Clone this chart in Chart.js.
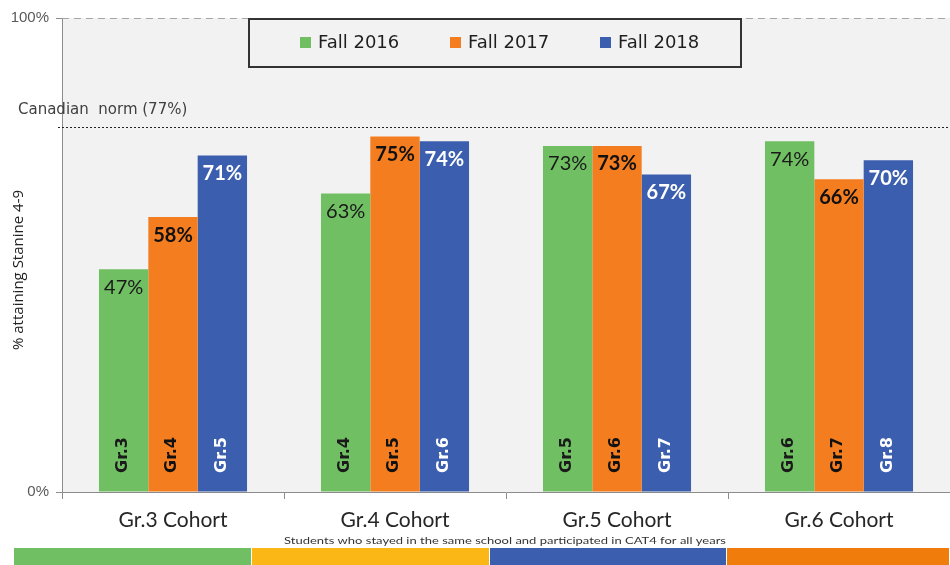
<!DOCTYPE html>
<html>
<head>
<meta charset="utf-8">
<script src="https://cdn.jsdelivr.net/npm/chart.js@4"></script>
<style>
  html, body { margin: 0; padding: 0; background: #fff; }
  #wrap { width: 950px; height: 565px; position: relative; }
</style>
</head>
<body>
<div id="wrap"><canvas id="cohortChart" width="950" height="565"></canvas></div>
<script>
(() => {
  "use strict";

  // ── data ──────────────────────────────────────────────────────────
  const cohorts = ["Gr.3 Cohort", "Gr.4 Cohort", "Gr.5 Cohort", "Gr.6 Cohort"];
  const fall2016 = [47, 63, 73, 74];
  const fall2017 = [58, 75, 73, 66];
  const fall2018 = [71, 74, 67, 70];
  const grades2016 = ["Gr.3", "Gr.4", "Gr.5", "Gr.6"];
  const grades2017 = ["Gr.4", "Gr.5", "Gr.6", "Gr.7"];
  const grades2018 = ["Gr.5", "Gr.6", "Gr.7", "Gr.8"];
  const yTicks = [0, 100];
  const canadianNorm = 77;

  const green = "#70bf63";
  const orange = "#f47d20";
  const blue = "#3b5fae";
  const plotBg = "#f2f2f2";
  const axisGray = "#8c8c8c";

  const series = [
    { label: "Fall 2016", data: fall2016, grades: grades2016, color: green, text: "#1a1a1a", bold: false },
    { label: "Fall 2017", data: fall2017, grades: grades2017, color: orange, text: "#111", bold: true },
    { label: "Fall 2018", data: fall2018, grades: grades2018, color: blue, text: "#ffffff", bold: true },
  ];

  // plot background, norm line, top dashed line, legend box, footer strips
  const decorations = {
    id: "decorations",
    beforeDraw(chart) {
      const { ctx, chartArea: a } = chart;
      ctx.save();
      ctx.fillStyle = plotBg;
      ctx.fillRect(a.left, a.top, a.right - a.left, a.bottom - a.top);
      ctx.restore();
    },
    beforeDatasetsDraw(chart) {
      const { ctx, chartArea: a, scales } = chart;
      const y = scales.y;
      ctx.save();
      // dashed 100% line
      ctx.strokeStyle = "#a6a6a6";
      ctx.lineWidth = 1;
      ctx.setLineDash([7, 5]);
      ctx.beginPath();
      ctx.moveTo(a.left, Math.round(y.getPixelForValue(100)) + 0.5);
      ctx.lineTo(a.right, Math.round(y.getPixelForValue(100)) + 0.5);
      ctx.stroke();
      // canadian norm dotted line
      const ny = Math.round(y.getPixelForValue(canadianNorm)) + 0.5;
      ctx.strokeStyle = "#222";
      ctx.setLineDash([2, 2]);
      ctx.beginPath();
      ctx.moveTo(a.left - 4, ny);
      ctx.lineTo(a.right, ny);
      ctx.stroke();
      ctx.setLineDash([]);
      ctx.fillStyle = "#404040";
      ctx.font = "15px 'DejaVu Sans'";
      ctx.textAlign = "left";
      ctx.textBaseline = "alphabetic";
      ctx.fillText("Canadian  norm (77%)", 18, ny - 14);

      // y axis title
      ctx.save();
      ctx.translate(19, 270);
      ctx.rotate(-Math.PI / 2);
      ctx.textAlign = "center";
      ctx.textBaseline = "middle";
      ctx.fillStyle = "#222";
      ctx.font = "15px 'Open Sans'";
      ctx.fillText("% attaining Stanine 4-9", 0, 0);
      ctx.restore();

      // legend box
      ctx.fillStyle = plotBg;
      ctx.fillRect(248, 18, 494, 50);
      ctx.strokeStyle = "#333";
      ctx.lineWidth = 2;
      ctx.strokeRect(249, 19, 492, 48);
      ctx.font = "18px 'DejaVu Sans'";
      ctx.textBaseline = "middle";
      ctx.textAlign = "left";
      chart.data.datasets.forEach((ds, i) => {
        const x = 300 + i * 150;
        ctx.fillStyle = ds.backgroundColor;
        ctx.fillRect(x, 37, 11, 11);
        ctx.fillStyle = "#1f1f1f";
        ctx.fillText(ds.label, x + 18, 43);
      });

      // footer
      ctx.save();
      ctx.fillStyle = "#333";
      ctx.font = "10px Lato";
      ctx.textAlign = "center";
      ctx.translate(505, 541);
      ctx.scale(1.3, 1);
      ctx.fillText("Students who stayed in the same school and participated in CAT4 for all years", 0, 0);
      ctx.restore();
      const strips = [[14, 252, green], [252, 490, "#fbb716"], [490, 727, blue], [727, 950, "#f07c0b"]];
      strips.forEach(([x0, x1, c]) => {
        ctx.fillStyle = c;
        ctx.fillRect(x0, 548, x1 - x0 - 1, 17);
      });
      ctx.restore();
    },
    afterDatasetsDraw(chart) {
      const { ctx, chartArea: a } = chart;
      ctx.save();
      chart.data.datasets.forEach((ds, i) => {
        const s = series[i];
        chart.getDatasetMeta(i).data.forEach((bar, j) => {
          ctx.fillStyle = s.text;
          ctx.font = (s.bold ? "bold " : "") + "20px Lato";
          ctx.textAlign = "center";
          ctx.textBaseline = "middle";
          ctx.fillText(ds.data[j] + "%", bar.x, bar.y + 18);
          // rotated grade label
          ctx.save();
          ctx.translate(bar.x - 1, a.bottom - 19);
          ctx.rotate(-Math.PI / 2);
          ctx.textAlign = "left";
          ctx.font = "bold 16px 'DejaVu Sans'";
          ctx.fillText(s.grades[j], 0, 0);
          ctx.restore();
        });
      });
      ctx.restore();
    },
  };

  new Chart(document.getElementById("cohortChart"), {
    type: "bar",
    data: {
      labels: cohorts,
      datasets: series.map((s) => ({
        label: s.label,
        data: s.data,
        backgroundColor: s.color,
        borderWidth: 0,
        categoryPercentage: 0.667,
        barPercentage: 1,
      })),
    },
    options: {
      responsive: false,
      animation: false,
      layout: { padding: { top: 18, right: 0, left: 0, bottom: 0 } },
      plugins: { legend: { display: false }, tooltip: { enabled: false } },
      scales: {
        x: {
          grid: { offset: true, drawOnChartArea: false, color: axisGray, tickLength: 7 },
          border: { color: axisGray },
          ticks: { color: "#262626", font: { family: "Lato", size: 21 }, padding: 9 },
          afterFit: (scale) => { scale.height = 73; },
        },
        y: {
          min: 0,
          max: 100,
          afterBuildTicks: (scale) => { scale.ticks = yTicks.map((v) => ({ value: v })); },
          grid: { drawOnChartArea: false, color: axisGray, tickLength: 6 },
          border: { color: axisGray },
          ticks: { color: "#595959", font: { family: "Liberation Sans", size: 15 }, padding: 7, callback: (v) => v + "%" },
          afterFit: (scale) => { scale.width = 62; },
        },
      },
    },
    plugins: [decorations],
  });
})();
</script>
</body>
</html>
